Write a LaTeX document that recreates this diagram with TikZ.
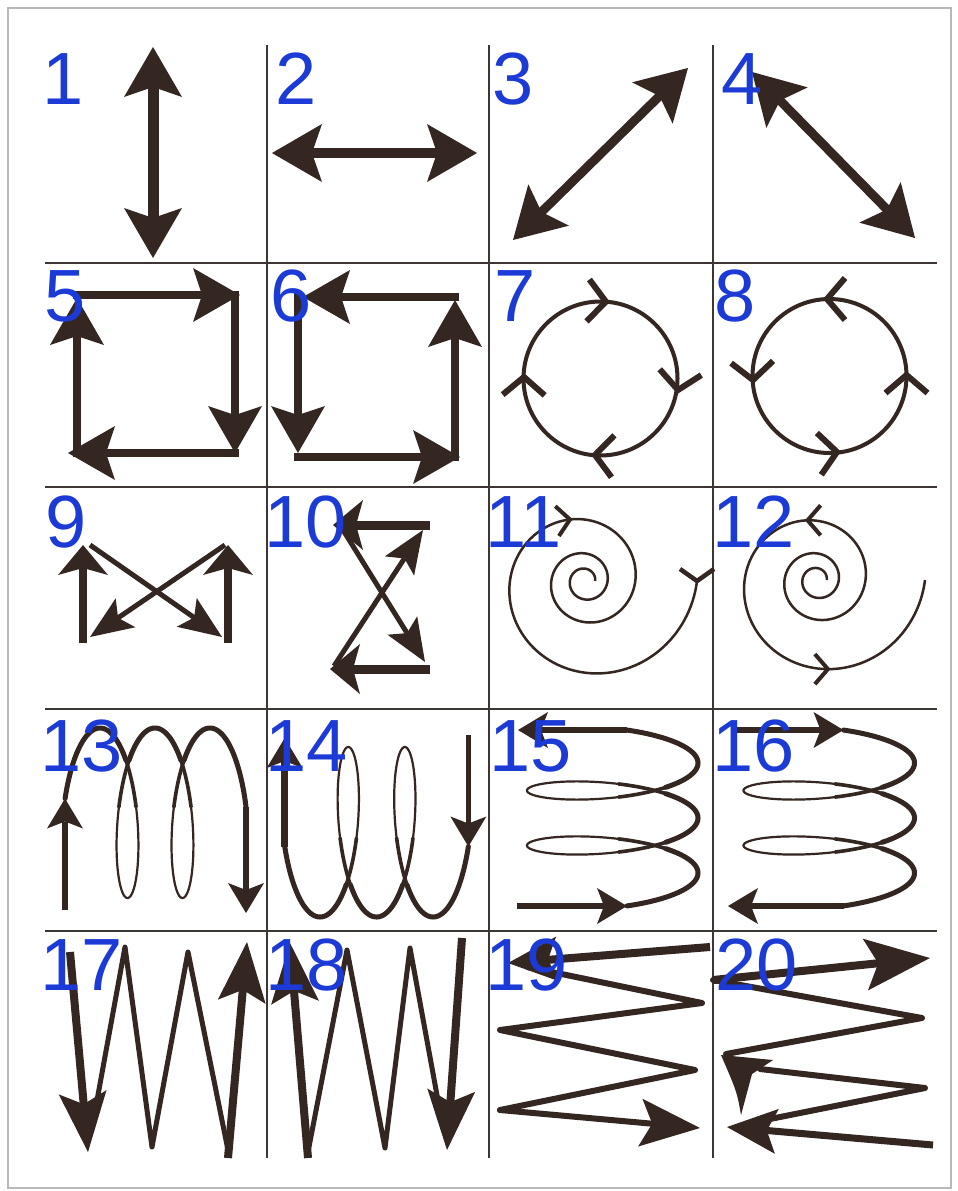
\documentclass[tikz,border=0pt]{standalone}
\usepackage{fontspec}
\setmainfont{Liberation Sans}
\usetikzlibrary{arrows.meta}
\definecolor{ink}{RGB}{52,38,32}
\definecolor{gridc}{RGB}{60,55,52}
\definecolor{numblue}{RGB}{28,58,214}
\begin{document}
\begin{tikzpicture}[x=1pt,y=-1pt,
  ink/.style={draw=ink, line cap=butt, line join=round},
  thin/.style={draw=ink, line cap=round, line join=round},
  num/.style={text=numblue, font=\fontsize{74}{74}\selectfont, inner sep=0pt, anchor=base west},
  hBigB/.style={{Stealth[length=50pt,width=58pt,inset=10pt,line width=0pt]}-{Stealth[length=50pt,width=58pt,inset=10pt,line width=0pt]}},
  hSq/.style={-{Stealth[length=47pt,width=54pt,inset=9pt,line width=0pt]}},
  hWide/.style={-{Stealth[length=30pt,width=50pt,inset=7pt,line width=0pt]}},
  hNar/.style={-{Stealth[length=43pt,width=35pt,inset=9pt,line width=0pt]}},
  hCoil/.style={-{Stealth[length=30pt,width=36pt,inset=7pt,line width=0pt]}},
  hLong/.style={-{Stealth[length=60pt,width=48pt,inset=12pt,line width=0pt]}},
  hLongB/.style={-{Stealth[length=65pt,width=52pt,inset=13pt,line width=0pt]}},
  hMid/.style={-{Stealth[length=50pt,width=45pt,inset=10pt,line width=0pt]}},
  chevC/.pic={\draw[draw=ink, line width=6pt, line join=miter] (-18,-21) -- (0,0) -- (-18,21);},
  chevS/.pic={\draw[draw=ink, line width=4pt, line join=miter] (-13,-15) -- (0,0) -- (-13,15);},
  chevV/.pic={\draw[draw=ink, line width=4.5pt, line join=miter] (-12,-17) -- (0,0) -- (-12,17);}
]
\useasboundingbox (0,0) rectangle (958,1191);
\fill[white] (0,0) rectangle (958,1191);
\draw[gray!55, line width=1.2pt] (8,8) rectangle (951,1188);
% grid
\draw[gridc, line width=2pt] (267,45) -- (267,1158) (489,45) -- (489,1158) (713,45) -- (713,1158);
\draw[gridc, line width=2pt] (45,263) -- (937,263) (45,487) -- (937,487) (45,709) -- (937,709) (45,931) -- (937,931);

% 1-4
\draw[ink, line width=11pt, hBigB] (153,258) -- (153,47);
\draw[ink, line width=10pt, hBigB] (272,153) -- (477,153);
\draw[ink, line width=9pt, hBigB] (513,240) -- (688,68);
\draw[ink, line width=9pt, hBigB] (752,72) -- (915,238);

% 5
\draw[ink, line width=8pt, hSq] (73,295) -- (240,295);
\draw[ink, line width=8pt, hSq] (235,291) -- (235,453);
\draw[ink, line width=8pt, hSq] (239,453) -- (68,453);
\draw[ink, line width=8pt, hSq] (77,457) -- (77,298);
% 6
\draw[ink, line width=8pt, hSq] (459,297) -- (303,297);
\draw[ink, line width=8pt, hSq] (298,293) -- (298,453);
\draw[ink, line width=8pt, hSq] (294,457) -- (460,457);
\draw[ink, line width=8pt, hSq] (455,461) -- (455,300);

% 7
\draw[ink, line width=4pt] (600.5,378.5) circle[radius=77];
\pic[rotate=-4] at (605.9,301.7) {chevC};
\pic[rotate=-98] at (678,390) {chevC};
\pic[rotate=176] at (595,455) {chevC};
\pic[rotate=89] at (524,377) {chevC};
% 8
\draw[ink, line width=4pt] (829.5,376) circle[radius=77];
\pic[rotate=180] at (827,299) {chevC};
\pic[rotate=-87] at (753,380) {chevC};
\pic[rotate=6] at (837,452) {chevC};
\pic[rotate=90] at (906.5,375) {chevC};

% 9
\draw[ink, line width=5pt, hNar] (90,545) -- (222,637);
\draw[ink, line width=5pt, hNar] (225,545) -- (90,637);
\draw[ink, line width=8pt, hWide] (83,643) -- (83,545);
\draw[ink, line width=8pt, hWide] (228,643) -- (228,545);

% 10
\draw[ink, line width=9pt, hWide] (430,525) -- (333,525);
\draw[ink, line width=5pt, hNar] (343,530) -- (425,662);
\draw[ink, line width=9pt, hWide] (430,669) -- (330,669);
\draw[ink, line width=5pt, hNar] (334,666) -- (423,530);

% 11
\draw[ink, line width=2.5pt] plot[domain=0:1080, samples=400, variable=\a]
  ({585+112*pow(0.67,\a/180)*cos(\a)},{581+112*pow(0.67,\a/180)*sin(\a)});
\pic[rotate=-90] at (697,581) {chevV};
\pic[rotate=7] at (570,519.5) {chevS};
% 12
\draw[ink, line width=2.5pt] plot[domain=0:1080, samples=400, variable=\a]
  ({817+108*pow(0.67,\a/180)*cos(\a)},{580+108*pow(0.67,\a/180)*sin(\a)});
\pic[rotate=180] at (807.6,520.3) {chevS};
\pic[rotate=0] at (827.9,669.1) {chevS};

% 13
\draw[ink, line width=2.2pt] plot[domain=-1.4:14.066, samples=400, variable=\t]
  ({100+8.75*\t+23*sin(\t r)},{813-85*cos(\t r)});
\foreach \da/\db in {-1.4/1.5, 4.783/7.783, 11.066/14.066}
  \draw[thin, line width=3.6pt] plot[domain=\da:\db, samples=80, variable=\t]
  ({100+8.75*\t+23*sin(\t r)},{813-85*cos(\t r)});
\foreach \da/\db in {-1.4/0.9, 5.383/7.183, 11.666/14.066}
  \draw[thin, line width=5pt] plot[domain=\da:\db, samples=80, variable=\t]
  ({100+8.75*\t+23*sin(\t r)},{813-85*cos(\t r)});
\draw[ink, line width=6pt, hCoil] (65,910) -- (65,798.5);
\draw[ink, line width=6pt, hCoil] (246,807) -- (246,913);

% 14
\draw[ink, line width=2.2pt] plot[domain=-1.4:13.966, samples=400, variable=\t]
  ({320+9*\t+23*sin(\t r)},{832+85*cos(\t r)});
\foreach \da/\db in {-1.4/1.5, 4.783/7.783, 11.066/13.966}
  \draw[thin, line width=3.6pt] plot[domain=\da:\db, samples=80, variable=\t]
  ({320+9*\t+23*sin(\t r)},{832+85*cos(\t r)});
\foreach \da/\db in {-1.4/0.9, 5.383/7.183, 11.666/13.966}
  \draw[thin, line width=5pt] plot[domain=\da:\db, samples=80, variable=\t]
  ({320+9*\t+23*sin(\t r)},{832+85*cos(\t r)});
\draw[ink, line width=7pt, hCoil] (284.7,846.5) -- (284.7,738);
\draw[ink, line width=5pt, hCoil] (468.4,735) -- (468.4,846.5);

% 15
\draw[ink, line width=2.2pt] plot[domain=-1.4:13.966, samples=400, variable=\t]
  ({612.5+85.5*cos(\t r)},{763+8.75*\t+21*sin(\t r)});
\foreach \da/\db in {-1.4/1.5, 4.783/7.783, 11.066/13.966}
  \draw[thin, line width=3.6pt] plot[domain=\da:\db, samples=80, variable=\t]
  ({612.5+85.5*cos(\t r)},{763+8.75*\t+21*sin(\t r)});
\foreach \da/\db in {-1.4/0.9, 5.383/7.183, 11.666/13.966}
  \draw[thin, line width=5pt] plot[domain=\da:\db, samples=80, variable=\t]
  ({612.5+85.5*cos(\t r)},{763+8.75*\t+21*sin(\t r)});
\draw[ink, line width=6pt, hCoil] (627,730) -- (518,730);
\draw[ink, line width=6pt, hCoil] (517,906) -- (627,906);

% 16
\draw[ink, line width=2.2pt] plot[domain=-1.4:13.966, samples=400, variable=\t]
  ({829+85.5*cos(\t r)},{763+8.75*\t+21*sin(\t r)});
\foreach \da/\db in {-1.4/1.5, 4.783/7.783, 11.066/13.966}
  \draw[thin, line width=3.6pt] plot[domain=\da:\db, samples=80, variable=\t]
  ({829+85.5*cos(\t r)},{763+8.75*\t+21*sin(\t r)});
\foreach \da/\db in {-1.4/0.9, 5.383/7.183, 11.666/13.966}
  \draw[thin, line width=5pt] plot[domain=\da:\db, samples=80, variable=\t]
  ({829+85.5*cos(\t r)},{763+8.75*\t+21*sin(\t r)});
\draw[ink, line width=6pt, hCoil] (735,730) -- (843.5,730);
\draw[ink, line width=6pt, hCoil] (843.5,906) -- (728,906);

% 17
\draw[thin, line width=5pt] (91.6,1130) -- (125,947) -- (152,1147) -- (188,952) -- (228,1150);
\draw[ink, line width=8pt, hLong] (70,952) -- (88,1152);
\draw[ink, line width=8pt, hLong] (228,1158) -- (247,942);
% 18
\draw[thin, line width=5pt] (308,1152) -- (347,950) -- (385,1148) -- (410,948) -- (443.4,1130);
\draw[ink, line width=8pt, hLong] (308,1158) -- (290,943);
\draw[ink, line width=8pt, hLong] (462,938) -- (447,1150);

% 19
\draw[ink, line width=8pt, hMid] (710,947) -- (508,963);
\draw[thin, line width=6pt] (527.6,967) -- (702,1003) -- (500,1030) -- (695,1070) -- (500,1110);
\draw[thin, line width=6pt, hLong] (500,1110) -- (700,1128);

% 20
\draw[ink, line width=8pt, hLongB] (713,980) -- (930,958);
\draw[thin, line width=6pt] (713,980) -- (922,1018) -- (726,1054);
\fill[fill=ink] (721,1055) -- (773,1060) -- (752,1074) -- (741,1115) .. controls (737,1092) .. (721,1055) -- cycle;
\draw[thin, line width=6pt] (760,1069) -- (925,1088) -- (760,1121);
\draw[ink, line width=7pt, hMid] (933,1145) -- (727,1127);

% numbers
\node[num] (n1) at (42,104) {1};
\node[num] (n2) at (275,104) {2};
\node[num] (n3) at (492,104) {3};
\node[num] (n4) at (721,104) {4};
\node[num] (n5) at (44,321) {5};
\node[num] (n6) at (270,321) {6};
\node[num] (n7) at (494,321) {7};
\node[num] (n8) at (714,321) {8};
\node[num] (n9) at (45,547) {9};
\node[num] (n10) at (264,547) {10};
\node[num] (n11) at (485,547) {11};
\node[num] (n12) at (712,547) {12};
\node[num] (n13) at (40,771) {13};
\node[num] (n14) at (265,771) {14};
\node[num] (n15) at (489,771) {15};
\node[num] (n16) at (712,771) {16};
\node[num] (n17) at (40,990) {17};
\node[num] (n18) at (265,990) {18};
\node[num] (n19) at (485,990) {19};
\node[num] (n20) at (715,990) {20};
\end{tikzpicture}
\end{document}
